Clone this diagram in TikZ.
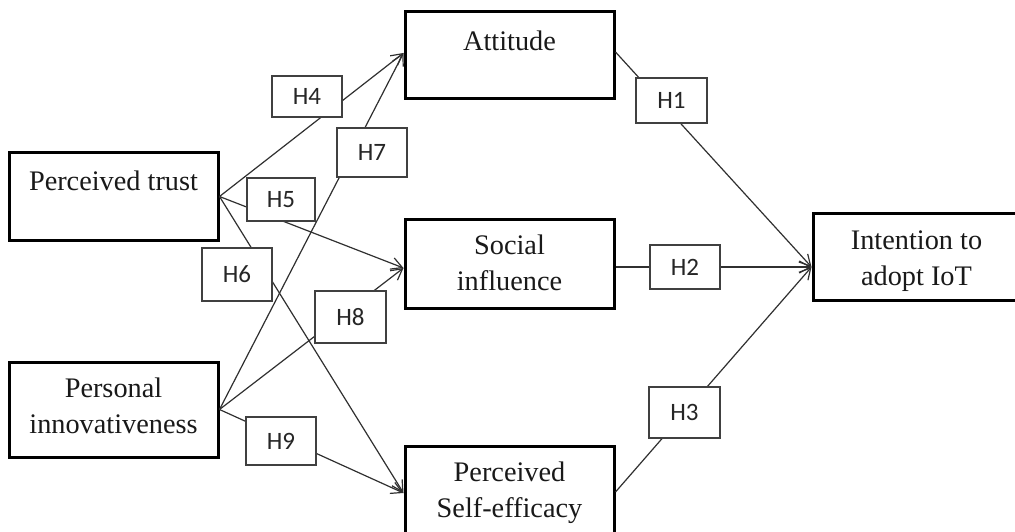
\documentclass[tikz,border=0pt]{standalone}
\usepackage{fontspec}
\setmainfont{Liberation Serif}
\newfontfamily\hfont{Carlito}
\usetikzlibrary{arrows.meta}
\definecolor{linegray}{HTML}{303030}
\definecolor{labgray}{HTML}{404040}
\tikzset{
  bigbox/.style={draw=black, line width=3pt, inner sep=0pt, rectangle},
  boxtext/.style={font=\fontsize{28.3}{36}\selectfont, align=center, inner sep=0pt, anchor=base, text=black!90},
  hyp/.style={draw=labgray, line width=1.3pt, fill=white, inner sep=0pt,
    font=\hfont\fontsize{25}{30}\selectfont, text=black!85},
  conn/.style={draw=linegray, line width=1.2pt},
  arr/.style={conn, -{Straight Barb[length=11pt,width=12pt,line width=1.2pt]}}
}
\begin{document}
\begin{tikzpicture}[x=1pt,y=-1pt]
\useasboundingbox (0,0) rectangle (1015,532);
\clip (0,0) rectangle (1015,532);
\fill[white] (0,0) rectangle (1015,532);
% main boxes
\node[bigbox, minimum width=209pt, minimum height=87pt] (pt) at (113.5,196.5) {};
\node[bigbox, minimum width=209pt, minimum height=95pt] (pi) at (113.5,409.5) {};
\node[bigbox, minimum width=209pt, minimum height=87pt] (att) at (509.5,55.5) {};
\node[bigbox, minimum width=209pt, minimum height=89pt] (si) at (509.5,263.5) {};
\node[bigbox, minimum width=209pt, minimum height=89pt] (pse) at (509.5,490.5) {};
\node[bigbox, minimum width=207pt, minimum height=87pt] (int) at (916.5,256.5) {};
% box texts (anchor=base is the baseline of the last line)
\node[boxtext] (pt-t) at (113.5,190) {Perceived trust};
\node[boxtext] (pi-t) at (113.5,433) {Personal\\innovativeness};
\node[boxtext] (att-t) at (509.5,51) {Attitude};
\node[boxtext] (si-t) at (509.5,290) {Social\\influence};
\node[boxtext] (int-t) at (916.5,285) {Intention to\\adopt IoT};
\node[boxtext] (pse-t) at (509.5,517) {Perceived\\Self-efficacy};
% connectors
\draw[arr] (pt.east) -- ([yshift=2.5pt]att.west);
\draw[arr] (pt.east) -- ([yshift=-4.5pt]si.west);
\draw[arr] (pt.east) -- ([yshift=-2.5pt]pse.west);
\draw[arr] (pi.east) -- ([yshift=2.5pt]att.west);
\draw[arr] (pi.east) -- ([yshift=-4.5pt]si.west);
\draw[arr] (pi.east) -- ([yshift=-2.5pt]pse.west);
\draw[arr] ([yshift=3.5pt]att.east) -- ([yshift=-10.5pt]int.west);
\draw[arr] ([yshift=-3.5pt]si.east) -- ([yshift=-10.5pt]int.west);
\draw[arr] ([yshift=-1.5pt]pse.east) -- ([yshift=-10.5pt]int.west);
% hypothesis labels
\node[hyp, minimum width=70pt, minimum height=41pt] (h4) at (307,96.5) {H4};
\node[hyp, minimum width=70pt, minimum height=49pt] (h7) at (372,152.5) {H7};
\node[hyp, minimum width=68pt, minimum height=43pt] (h5) at (281,199.4) {H5};
\node[hyp, minimum width=70pt, minimum height=53pt] (h6) at (237,274.5) {H6};
\node[hyp, minimum width=71pt, minimum height=52pt] (h8) at (350.5,317) {H8};
\node[hyp, minimum width=70pt, minimum height=48pt] (h9) at (281,441) {H9};
\node[hyp, minimum width=71pt, minimum height=45pt] (h1) at (671.5,100.5) {H1};
\node[hyp, minimum width=70pt, minimum height=44pt] (h2) at (685,267) {H2};
\node[hyp, minimum width=71pt, minimum height=51pt] (h3) at (684.5,412.5) {H3};
\end{tikzpicture}
\end{document}
